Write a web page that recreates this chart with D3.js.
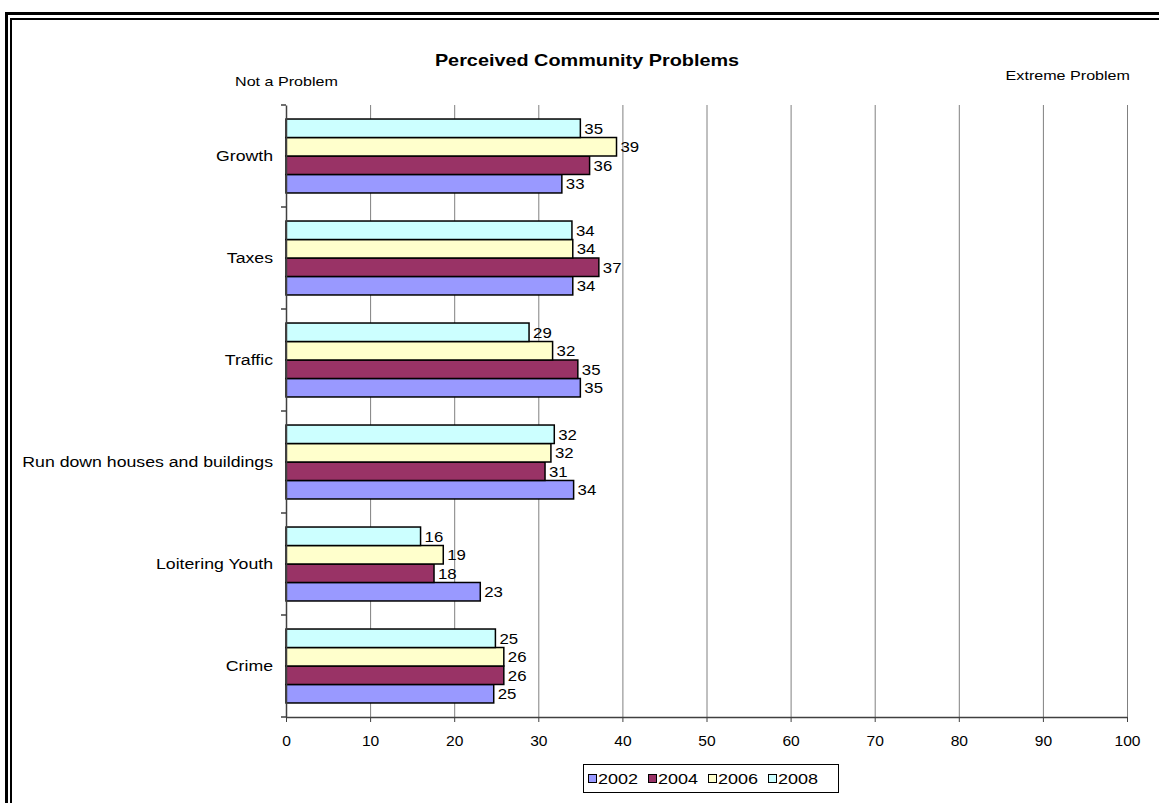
<!DOCTYPE html>
<html><head><meta charset="utf-8">
<script src="https://cdn.jsdelivr.net/npm/d3@7"></script>
<style>body{margin:0;background:#fff}svg{display:block;font-family:"Liberation Sans",Arial,sans-serif}</style>
</head><body><svg id="c" width="1159" height="803"></svg>
<script>
const categories = ["Growth","Taxes","Traffic","Run down houses and buildings","Loitering Youth","Crime"];
const years = ["2002","2004","2006","2008"];
const v2002 = [32.8, 34.1, 35.0, 34.2, 23.1, 24.7];
const v2004 = [36.1, 37.2, 34.7, 30.8, 17.6, 25.9];
const v2006 = [39.3, 34.1, 31.7, 31.5, 18.7, 25.9];
const v2008 = [35.0, 34.0, 28.9, 31.9, 16.0, 24.9];
const xTicks = [0,10,20,30,40,50,60,70,80,90,100];
const colors = ["#9999FF","#993366","#FFFFCC","#CCFFFF"];

const series = [v2002, v2004, v2006, v2008];
const svg = d3.select("#c");

function stretch(sel, s){
  sel.each(function(){
    const t = d3.select(this);
    const x = +t.attr("x") || 0, y = +t.attr("y") || 0;
    t.attr("x",0).attr("y",0).attr("transform",`translate(${x},${y}) scale(${s},1)`);
  });
}

// frame
svg.append("rect").attr("x",6.5).attr("y",13.5).attr("width",1200).attr("height",900)
  .attr("fill","none").attr("stroke","#000").attr("stroke-width",3);
svg.append("rect").attr("x",11).attr("y",19).attr("width",1200).attr("height",900)
  .attr("fill","none").attr("stroke","#000").attr("stroke-width",2);

const L=286, R=1127, T=105, B=717;
const x = d3.scaleLinear().domain([0,100]).range([L,R]);
const y = d3.scaleBand().domain(categories).range([T,B]).paddingInner(0.275).paddingOuter(0.1375);
const yi = d3.scaleBand().domain(["2008","2006","2004","2002"]).range([0,y.bandwidth()]);

// gridlines
svg.append("g").selectAll("line").data(xTicks.slice(1)).join("line")
  .attr("x1",d=>x(d)+0.5).attr("x2",d=>x(d)+0.5).attr("y1",T).attr("y2",B)
  .attr("stroke","#808080").attr("stroke-width",1);

// bars
const g = svg.append("g");
years.forEach((yr,si)=>{
  const vals = series[si];
  g.selectAll(null).data(categories).join("rect")
    .attr("x",x(0)).attr("y",c=>y(c)+yi(yr))
    .attr("width",(c,i)=>x(vals[i])-x(0)).attr("height",yi.bandwidth())
    .attr("fill",colors[si]).attr("stroke","#000").attr("stroke-width",1.5);
  const lbl = g.selectAll(null).data(categories).join("text")
    .attr("x",(c,i)=>x(vals[i])+4).attr("y",c=>y(c)+yi(yr)+yi.bandwidth()/2)
    .attr("dy","0.36em").attr("font-size",15).attr("fill","#000")
    .text((c,i)=>d3.format(".0f")(vals[i]));
  stretch(lbl, 1.12);
});

// x axis
const xa = svg.append("g").attr("transform",`translate(0,${B})`)
  .call(d3.axisBottom(x).tickValues(xTicks).tickSize(5).tickPadding(13).tickSizeOuter(0));
xa.select(".domain").attr("stroke","#404040").attr("stroke-width",1.5);
xa.selectAll(".tick line").attr("stroke","#404040");
xa.selectAll("text").attr("font-size",15).attr("font-family","Liberation Sans, Arial, sans-serif").attr("fill","#000");
stretch(xa.selectAll("text"), 1.04);

// y axis
const ya = svg.append("g").attr("transform",`translate(${L},0)`)
  .call(d3.axisLeft(y).tickSize(0).tickPadding(13).tickSizeOuter(0));
ya.select(".domain").attr("stroke","#404040").attr("stroke-width",1.5);
ya.selectAll("text").attr("font-size",15).attr("font-family","Liberation Sans, Arial, sans-serif").attr("fill","#000");
stretch(ya.selectAll("text"), 1.18);
// boundary ticks
const bounds = d3.range(0,categories.length+1).map(i=>T+(B-T)*i/categories.length);
svg.append("g").selectAll("line").data(bounds).join("line")
  .attr("x1",L-5).attr("x2",L).attr("y1",d=>d).attr("y2",d=>d)
  .attr("stroke","#404040").attr("stroke-width",1.5);

// titles
const tt = svg.append("g");
tt.append("text").attr("x",587).attr("y",66).attr("text-anchor","middle")
  .attr("font-size",16).attr("font-weight","bold").text("Perceived Community Problems");
tt.append("text").attr("x",235).attr("y",86).attr("font-size",13).text("Not a Problem");
tt.append("text").attr("x",1130).attr("y",80).attr("text-anchor","end").attr("font-size",13).text("Extreme Problem");
stretch(tt.selectAll("text"), 1.24);

// legend
const lg = svg.append("g");
lg.append("rect").attr("x",583.5).attr("y",764.5).attr("width",255).attr("height",28)
  .attr("fill","#fff").attr("stroke","#000").attr("stroke-width",1);
const lx = d3.scalePoint().domain(years).range([588,768]);
lg.selectAll(null).data(years).join("rect")
  .attr("x",d=>lx(d)+0.5).attr("y",774.5).attr("width",8).attr("height",8)
  .attr("fill",(d,i)=>colors[i]).attr("stroke","#000").attr("stroke-width",1);
const lt = lg.selectAll(null).data(years).join("text")
  .attr("x",d=>lx(d)+10).attr("y",779).attr("dy","0.36em").attr("font-size",15).text(d=>d);
stretch(lt, 1.2);
</script></body></html>
